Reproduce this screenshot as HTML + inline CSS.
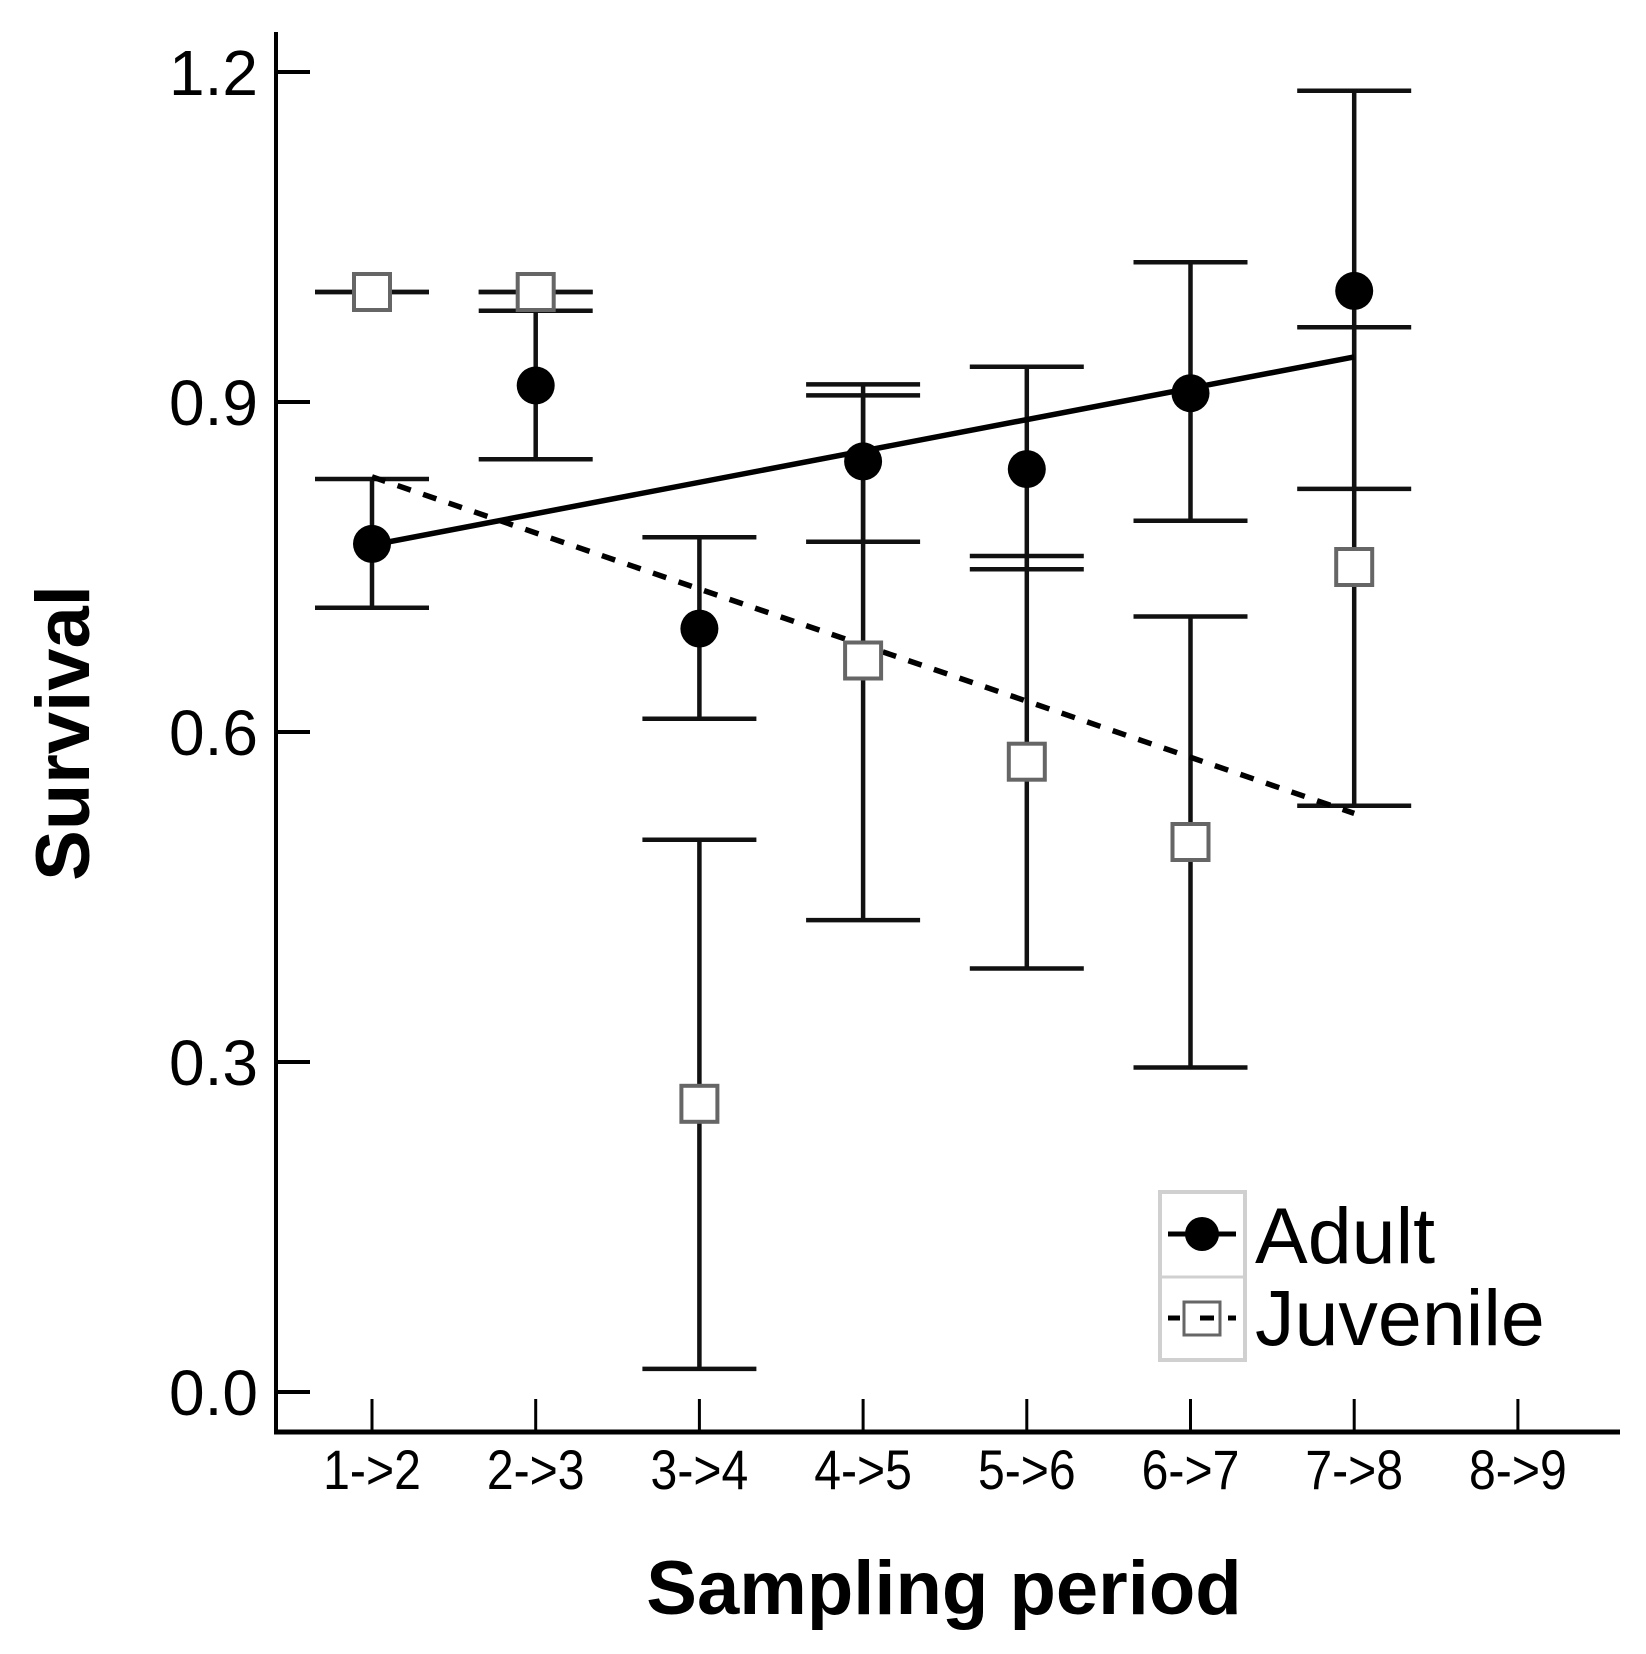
<!DOCTYPE html>
<html><head><meta charset="utf-8"><style>
body{margin:0;background:#fff}
svg{display:block;font-family:"Liberation Sans",Arial,sans-serif}
</style></head><body>
<svg id="chart" width="1646" height="1654" viewBox="0 0 1646 1654" xmlns="http://www.w3.org/2000/svg">
<g id="axes"></g>
<g id="marks"></g>
<text x="69" y="733" transform="rotate(-90 69 733)" text-anchor="middle" dominant-baseline="middle" font-size="76" font-weight="bold">Survival</text>
<text x="944" y="1614" text-anchor="middle" font-size="76" font-weight="bold">Sampling period</text>
<g>
<rect x="1160" y="1192" width="85" height="168" fill="#fff" stroke="#d0d0d0" stroke-width="4"/>
<line x1="1160" y1="1277" x2="1245" y2="1277" stroke="#d0d0d0" stroke-width="3"/>
<g>
<line x1="1168" y1="1234" x2="1236" y2="1234" stroke="#000" stroke-width="5"/>
<circle cx="1202" cy="1234" r="17" fill="#000"/>
<text x="1255" y="1263" font-size="79">Adult</text></g>
<g>
<line x1="1168" y1="1318" x2="1236" y2="1318" stroke="#000" stroke-width="5" stroke-dasharray="12,8"/>
<rect x="1184" y="1302" width="36" height="33" fill="#fff" stroke="#666" stroke-width="3"/>
<line x1="1200" y1="1318" x2="1214" y2="1318" stroke="#000" stroke-width="5"/>
<text x="1255" y="1345" font-size="79">Juvenile</text></g>
</g>
</svg>
<script>
const categories=["1->2","2->3","3->4","4->5","5->6","6->7","7->8","8->9"];
const yTicks=[0.0,0.3,0.6,0.9,1.2];
const yTickLabels=["0.0","0.3","0.6","0.9","1.2"];
const adultVal=[0.771,0.915,0.694,0.846,0.839,0.908,1.001];
const adultHi=[0.830,0.983,0.777,0.916,0.932,1.027,1.183];
const adultLo=[0.713,0.848,0.612,0.773,0.748,0.792,0.821];
const juvVal=[1.0,1.0,0.262,0.665,0.573,0.500,0.750];
const juvHi=[1.0,1.0,0.502,0.906,0.760,0.705,0.968];
const juvLo=[1.0,1.0,0.021,0.429,0.385,0.295,0.533];
const adultTrend=[0.770,0.941];
const juvTrend=[0.832,0.526];

const NS="http://www.w3.org/2000/svg";
const x0=372,dx=163.7;
function xs(i){return x0+i*dx;}
function ys(v){return 1392-1100*v;}
function mk(tag,attrs,parent){const e=document.createElementNS(NS,tag);for(const k in attrs)e.setAttribute(k,attrs[k]);parent.appendChild(e);return e;}
const ax=document.getElementById('axes'),mg=document.getElementById('marks');
let l=mk('line',{x1:276,y1:32,x2:276,y2:1434,stroke:'#000','stroke-width':4},ax);


l=mk('line',{x1:274,y1:1432,x2:1620,y2:1432,stroke:'#000','stroke-width':5},ax);


yTicks.forEach((v,i)=>{
 const t=mk('line',{x1:276,y1:ys(v),x2:310,y2:ys(v),stroke:'#000','stroke-width':4},ax);
 
 
 const tx=mk('text',{x:258,y:ys(v)+23,'text-anchor':'end','font-size':64},ax);
 tx.textContent=yTickLabels[i];
 
 
});
categories.forEach((c,i)=>{
 const t=mk('line',{x1:xs(i),y1:1399,x2:xs(i),y2:1432,stroke:'#000','stroke-width':3},ax);
 
 
 const tx=mk('text',{x:xs(i),y:1489,'text-anchor':'middle','font-size':56,transform:`translate(${xs(i)} 0) scale(0.86 1) translate(${-xs(i)} 0)`},ax);
 tx.textContent=c;
 
 
});
function errbar(i,lo,hi,name){
 const g=mk('g',{},mg);
 
 
 mk('line',{x1:xs(i),y1:ys(hi),x2:xs(i),y2:ys(lo),stroke:'#111','stroke-width':4.5},g);
 mk('line',{x1:xs(i)-57,y1:ys(hi),x2:xs(i)+57,y2:ys(hi),stroke:'#111','stroke-width':4.5},g);
 mk('line',{x1:xs(i)-57,y1:ys(lo),x2:xs(i)+57,y2:ys(lo),stroke:'#111','stroke-width':4.5},g);
}
juvVal.forEach((v,i)=>errbar(i,juvLo[i],juvHi[i],'juvenile-errorbar'));
adultVal.forEach((v,i)=>errbar(i,adultLo[i],adultHi[i],'adult-errorbar'));
l=mk('line',{x1:xs(0),y1:ys(adultTrend[0]),x2:xs(6),y2:ys(adultTrend[1]),stroke:'#000','stroke-width':5.5},mg);


l=mk('line',{x1:xs(0),y1:ys(juvTrend[0]),x2:xs(6),y2:ys(juvTrend[1]),stroke:'#000','stroke-width':5.5,'stroke-dasharray':'14,13'},mg);


juvVal.forEach((v,i)=>{
 const r=mk('rect',{x:xs(i)-18,y:ys(v)-18,width:36,height:36,fill:'#fff',stroke:'#666','stroke-width':4},mg);
 
 
});
adultVal.forEach((v,i)=>{
 const c=mk('circle',{cx:xs(i),cy:ys(v),r:19,fill:'#000'},mg);
 
 
});
</script>
</body></html>
